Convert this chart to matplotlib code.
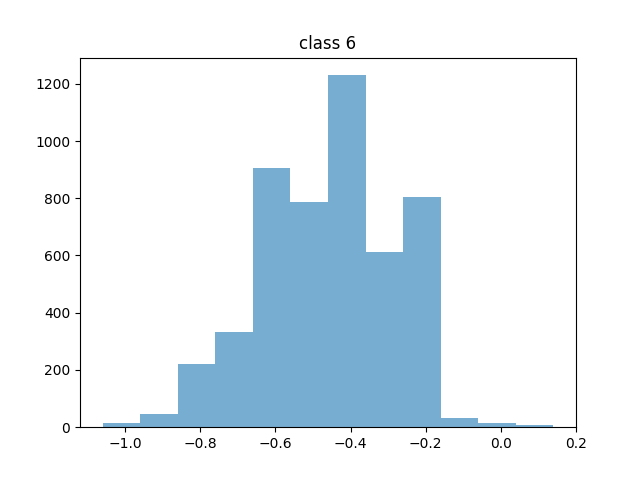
import numpy as np
import matplotlib
matplotlib.use("Agg")
import matplotlib.pyplot as plt

# bin edges and counts
bin_edges = np.linspace(-1.06, 0.14, 13)
counts = [14, 46, 220, 333, 906, 786, 1230, 611, 805, 33, 14, 7]

centers = (bin_edges[:-1] + bin_edges[1:]) / 2

plt.figure(figsize=(6.4, 4.8), dpi=100)
plt.hist(centers, bins=bin_edges, weights=counts, alpha=0.6)
plt.title('class 6')
plt.savefig('out.png')
